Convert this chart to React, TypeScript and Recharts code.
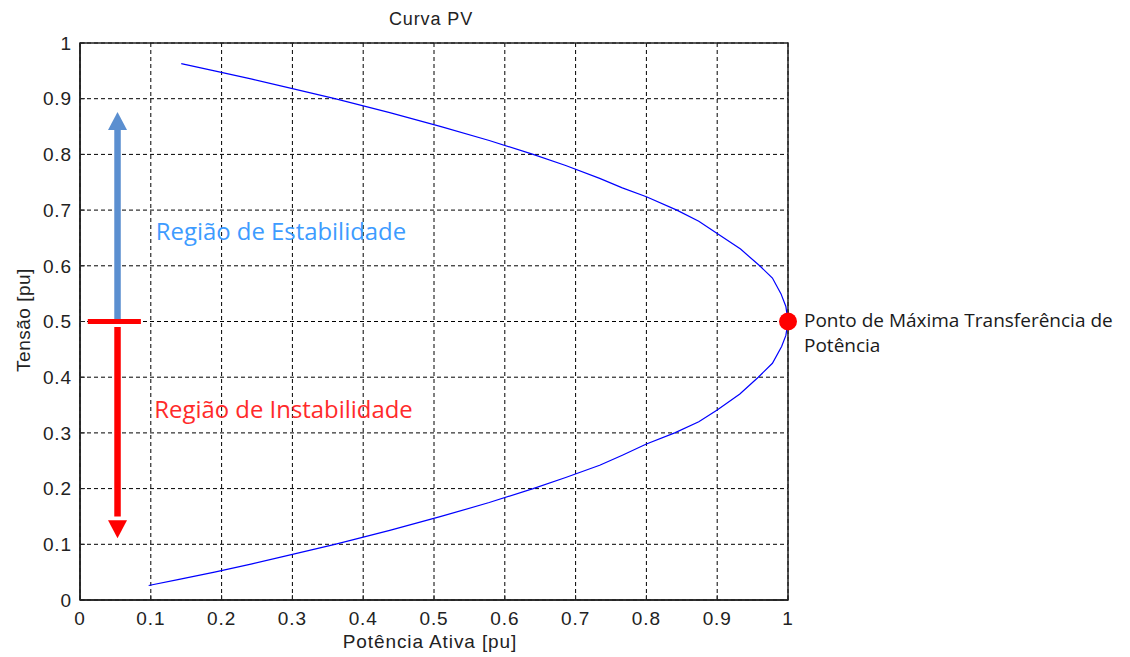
import React from "react";
import {
  LineChart,
  Line,
  XAxis,
  YAxis,
  CartesianGrid,
  ReferenceLine,
  ReferenceDot,
  ReferenceArea,
} from "recharts";

// PV curve: active power (pu) and the matching bus voltage (pu), upper branch then lower branch
const activePower = [
  0.143, 0.19, 0.243, 0.294, 0.36, 0.4375, 0.51, 0.578, 0.64, 0.686, 0.734, 0.766, 0.8, 0.843,
  0.874, 0.9, 0.933, 0.96, 0.978, 0.99, 0.997, 1.0, 0.997, 0.991, 0.978, 0.958, 0.932, 0.9, 0.874,
  0.84, 0.8, 0.766, 0.734, 0.686, 0.64, 0.578, 0.51, 0.4375, 0.36, 0.294, 0.243, 0.19, 0.14, 0.097,
];
const voltage = [
  0.963, 0.95, 0.935, 0.92, 0.9, 0.875, 0.85, 0.825, 0.8, 0.78, 0.757, 0.74, 0.724, 0.7, 0.68,
  0.658, 0.63, 0.6, 0.578, 0.55, 0.527, 0.5, 0.475, 0.455, 0.425, 0.4, 0.37, 0.341, 0.32, 0.3,
  0.28, 0.26, 0.242, 0.22, 0.2, 0.175, 0.15, 0.125, 0.1, 0.08, 0.065, 0.05, 0.037, 0.026,
];

const xTicks = [0, 0.1, 0.2, 0.3, 0.4, 0.5, 0.6, 0.7, 0.8, 0.9, 1];
const yTicks = [0, 0.1, 0.2, 0.3, 0.4, 0.5, 0.6, 0.7, 0.8, 0.9, 1];

// Maximum power transfer point and the stability-region markers
const maxPoint = { p: 1.0, v: 0.5 };
const arrowP = 0.053;
const stableArrow = { from: 0.5, shaftTo: 0.85, tip: 0.876 };
const unstableArrow = { from: 0.49, shaftTo: 0.15, tip: 0.111 };
const splitBar = { from: 0.011, to: 0.086, v: 0.5 };
const stableLabel = { p: 0.107, v: 0.646, text: "Região de Estabilidade" };
const unstableLabel = { p: 0.105, v: 0.327, text: "Região de Instabilidade" };
const maxLabelLines = ["Ponto de Máxima Transferência de", "Potência"];

const data = activePower.map((p, i) => ({ p, v: voltage[i] }));

const axisFont = "'Liberation Sans', Arial, sans-serif";
const noteFont = "'Open Sans', 'Noto Sans', sans-serif";

const upHead = (color: string) => (props: any) => (
  <polygon
    points={`${props.cx},${props.cy} ${props.cx - 9.5},${props.cy + 18} ${props.cx + 9.5},${props.cy + 18}`}
    fill={color}
  />
);
const downHead = (color: string) => (props: any) => (
  <polygon
    points={`${props.cx},${props.cy} ${props.cx - 9.5},${props.cy - 18} ${props.cx + 9.5},${props.cy - 18}`}
    fill={color}
  />
);
const noteText = (text: string, color: string) => (props: any) => (
  <text x={props.cx} y={props.cy} fill={color} fontFamily={noteFont} fontSize={23.9}>
    {text}
  </text>
);

const XTick = (props: any) => (
  <text
    x={props.x}
    y={props.y + 13.5}
    textAnchor="middle"
    fontFamily={axisFont}
    fontSize={19}
    letterSpacing={0.9}
    fill="#222"
  >
    {String(props.payload.value)}
  </text>
);
const YTick = (props: any) => (
  <text
    x={props.x}
    y={props.y + 6.7}
    textAnchor="end"
    fontFamily={axisFont}
    fontSize={19}
    letterSpacing={0.9}
    fill="#222"
  >
    {String(props.payload.value)}
  </text>
);

export default function App() {
  return (
    <div style={{ position: "absolute", left: 0, top: 0, width: 1130, height: 657, background: "#fff" }}>
      <LineChart
        width={1130}
        height={657}
        data={data}
        margin={{ top: 43, right: 342, bottom: 17, left: 20 }}
      >
        <CartesianGrid
          stroke="#000"
          strokeDasharray="4 3"
          strokeWidth={1}
          horizontalValues={yTicks}
          verticalValues={xTicks}
        />
        <XAxis
          dataKey="p"
          type="number"
          domain={[0, 1]}
          ticks={xTicks}
          interval={0}
          height={40}
          tickSize={-5}
          tickMargin={16}
          axisLine={{ stroke: "#222", strokeWidth: 1.5 }}
          tickLine={{ stroke: "#222" }}
          tick={XTick}
        />
        <YAxis
          dataKey="v"
          type="number"
          domain={[0, 1]}
          ticks={yTicks}
          interval={0}
          width={60}
          tickSize={-5}
          tickMargin={13}
          axisLine={{ stroke: "#222", strokeWidth: 1.5 }}
          tickLine={{ stroke: "#222" }}
          tick={YTick}
        />
        <ReferenceArea x1={0} x2={1} y1={0} y2={1} fill="none" stroke="#222" strokeWidth={1.5} />
        <Line
          dataKey="v"
          type="linear"
          stroke="#0000ff"
          strokeWidth={1.2}
          dot={false}
          isAnimationActive={false}
        />
        <ReferenceLine
          segment={[
            { x: arrowP, y: stableArrow.from },
            { x: arrowP, y: stableArrow.shaftTo },
          ]}
          stroke="#5b8fd0"
          strokeWidth={6.5}
        />
        <ReferenceDot x={arrowP} y={stableArrow.tip} r={1} shape={upHead("#5b8fd0")} />
        <ReferenceLine
          segment={[
            { x: arrowP, y: unstableArrow.from },
            { x: arrowP, y: unstableArrow.shaftTo },
          ]}
          stroke="#ff0000"
          strokeWidth={6.5}
        />
        <ReferenceDot x={arrowP} y={unstableArrow.tip} r={1} shape={downHead("#ff0000")} />
        <ReferenceLine
          segment={[
            { x: splitBar.from, y: splitBar.v },
            { x: splitBar.to, y: splitBar.v },
          ]}
          stroke="#ff0000"
          strokeWidth={5}
        />
        <ReferenceDot
          x={stableLabel.p}
          y={stableLabel.v}
          r={1}
          shape={noteText(stableLabel.text, "#3d9bff")}
        />
        <ReferenceDot
          x={unstableLabel.p}
          y={unstableLabel.v}
          r={1}
          shape={noteText(unstableLabel.text, "#ff2a2a")}
        />
        <ReferenceDot
          x={maxPoint.p}
          y={maxPoint.v}
          r={9}
          shape={(props: any) => (
            <g>
              <circle cx={props.cx} cy={props.cy} r={9} fill="#ff0000" />
              {maxLabelLines.map((line, i) => (
                <text
                  key={i}
                  x={props.cx + 16}
                  y={props.cy + 5 + i * 25}
                  fill="#1a1a1a"
                  fontFamily={noteFont}
                  fontSize={19}
                >
                  {line}
                </text>
              ))}
            </g>
          )}
        />
      </LineChart>
      <svg
        width={1130}
        height={657}
        style={{ position: "absolute", left: 0, top: 0, pointerEvents: "none" }}
      >
        <text x={431} y={25} textAnchor="middle" fontFamily={axisFont} fontSize={18} letterSpacing={0.9} fill="#222">
          Curva PV
        </text>
        <text x={430} y={648} textAnchor="middle" fontFamily={axisFont} fontSize={19} letterSpacing={0.9} fill="#222">
          Potência Ativa [pu]
        </text>
        <text
          x={30}
          y={320}
          textAnchor="middle"
          transform="rotate(-90, 30, 320)"
          fontFamily={axisFont}
          fontSize={19}
          letterSpacing={0.5}
          fill="#222"
        >
          Tensão [pu]
        </text>
      </svg>
    </div>
  );
}
